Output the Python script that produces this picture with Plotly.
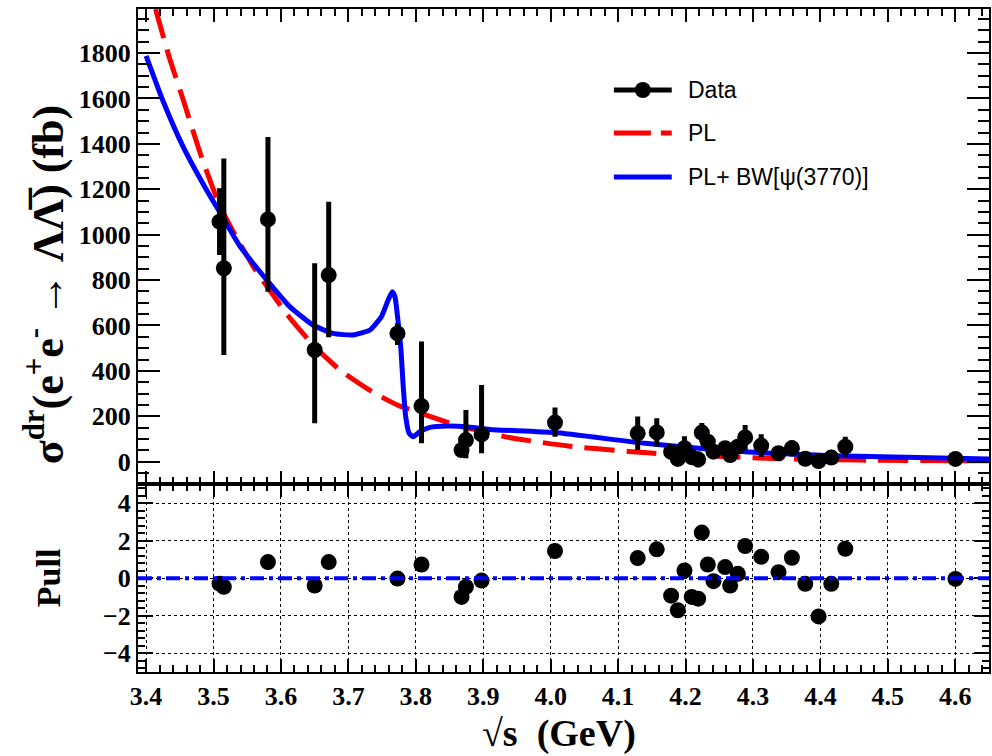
import plotly.graph_objects as go

# ---- measured points: dressed cross section (fb) and fit pulls ----
sqrt_s = [3.5089, 3.5153, 3.5807, 3.6500, 3.6708, 3.7728, 3.8084, 3.8678, 3.8743, 3.8975,
          4.0064, 4.1290, 4.1573, 4.1786, 4.1885, 4.1984, 4.2092, 4.2187, 4.2241, 4.2330,
          4.2414, 4.2587, 4.2662, 4.2775, 4.2884, 4.3122, 4.3379, 4.3577, 4.3775, 4.3973,
          4.4161, 4.4369, 4.6002]
sigma = [1057, 852, 1067, 492, 822, 565, 245, 51, 95, 120,
         172, 125, 129, 43, 12, 59, 20, 10, 128, 88,
         44, 59, 29, 66, 107, 71, 37, 59, 13, 3,
         18, 66, 12]
err_up = [147, 484, 363, 382, 323, 44, 284, 30, 133, 218,
          67, 74, 62, 25, 25, 53, 30, 35, 42, 30,
          25, 25, 25, 30, 55, 50, 25, 35, 20, 17,
          20, 44, 15]
err_down = [147, 382, 318, 323, 274, 51, 164, 25, 80, 83,
            62, 74, 62, 25, 25, 53, 30, 35, 42, 30,
            25, 25, 25, 30, 55, 50, 25, 35, 20, 17,
            20, 44, 15]
pull = [-0.29, -0.46, 0.86, -0.39, 0.86, -0.02, 0.73, -1.00, -0.46, -0.13,
        1.45, 1.07, 1.54, -0.93, -1.71, 0.41, -1.00, -1.09, 2.43, 0.73,
        -0.16, 0.59, -0.39, 0.23, 1.71, 1.14, 0.32, 1.09, -0.30, -2.04,
        -0.30, 1.57, -0.04]

# ---- fit curves ----
pl_x = [3.414, 3.434, 3.455, 3.482, 3.509, 3.528, 3.563, 3.581, 3.610, 3.650,
        3.687, 3.737, 3.774, 3.808, 3.836, 3.868, 3.910, 3.935, 4.026, 4.115,
        4.170, 4.320, 4.460, 4.605, 4.650]
pl_y = [1994, 1785, 1594, 1344, 1130, 1020, 840, 765, 645, 507,
        405, 305, 248, 213, 184, 154, 126, 108, 69, 45,
        34, 15, 7, 4, 4]

bw_x = [3.400, 3.425, 3.4545, 3.489, 3.509, 3.539, 3.581, 3.613, 3.6475, 3.677,
        3.707, 3.732, 3.749, 3.759, 3.765, 3.769, 3.774, 3.778, 3.781, 3.785,
        3.790, 3.796, 3.806, 3.821, 3.846, 3.875, 3.910, 4.006, 4.140, 4.288,
        4.437, 4.650]
bw_y = [1788, 1590, 1390, 1200, 1100, 950, 793, 683, 602, 565,
        558, 580, 639, 712, 749, 727, 609, 492, 345, 198,
        125, 110, 132, 151, 157, 154, 142, 128, 81, 44,
        25, 12]

# ---- axis settings ----
x_range = [3.388, 4.65]
x_ticks = [3.4, 3.5, 3.6, 3.7, 3.8, 3.9, 4.0, 4.1, 4.2, 4.3, 4.4, 4.5, 4.6]
x_tick_text = ["3.4", "3.5", "3.6", "3.7", "3.8", "3.9", "4.0", "4.1", "4.2", "4.3", "4.4", "4.5", "4.6"]
sig_range = [-100, 1994]
sig_ticks = [0, 200, 400, 600, 800, 1000, 1200, 1400, 1600, 1800]
pull_range = [-5, 5]
pull_ticks = [-4, -2, 0, 2, 4]

legend_labels = ["Data", "PL", "PL+ BW[\u03c8(3770)]"]

W, H = 992, 756
ML, MR, MT, MB = 138, 1, 9, 84
PW, PH = W - ML - MR, H - MT - MB
SPLIT = 0.283

SERIF = "Liberation Serif"
SANS = "Liberation Sans"


def px(xp):
    return (xp - ML) / PW


def py(yp):
    return (H - MB - yp) / PH


fig = go.Figure()

# upper panel: fit curves and data
fig.add_trace(go.Scatter(x=pl_x, y=pl_y, mode="lines", xaxis="x", yaxis="y",
                         line=dict(color="#ff0000", width=5, dash="30px,12px", shape="spline", smoothing=0.6),
                         showlegend=False, hoverinfo="skip"))
fig.add_trace(go.Scatter(x=bw_x, y=bw_y, mode="lines", xaxis="x", yaxis="y",
                         line=dict(color="#0000ff", width=5, shape="spline", smoothing=0.5),
                         showlegend=False, hoverinfo="skip"))
fig.add_trace(go.Scatter(x=sqrt_s, y=sigma, mode="markers", xaxis="x", yaxis="y",
                         marker=dict(color="black", size=16),
                         error_y=dict(type="data", symmetric=False, array=err_up, arrayminus=err_down,
                                      color="black", thickness=5, width=0),
                         showlegend=False))

# lower panel: pulls
fig.add_trace(go.Scatter(x=sqrt_s, y=pull, mode="markers", xaxis="x2", yaxis="y2",
                         marker=dict(color="black", size=16), showlegend=False))

tick_font = dict(family=SERIF, size=26, color="black", weight="bold")

common_x = dict(range=x_range, tickvals=x_ticks, ticktext=x_tick_text, ticks="inside",
                showline=True, linewidth=2, linecolor="black", mirror="allticks",
                tickcolor="black", tickwidth=1.5, ticklen=13, zeroline=False,
                minor=dict(ticks="inside", dtick=0.02, tick0=3.4, ticklen=7, tickcolor="black", tickwidth=1.5,
                           showgrid=False))

fig.update_layout(
    width=W, height=H,
    margin=dict(l=ML, r=MR, t=MT, b=MB, pad=0),
    paper_bgcolor="white", plot_bgcolor="white",
    showlegend=False,
    xaxis=dict(common_x, anchor="y", domain=[0, 1], showticklabels=False, showgrid=False, matches="x2"),
    xaxis2=dict(common_x, anchor="y2", domain=[0, 1], showticklabels=True, tickfont=tick_font,
                ticklabelstandoff=0,
                showgrid=True, gridcolor="black", gridwidth=1.2, griddash="dot"),
    yaxis=dict(domain=[SPLIT, 1], range=sig_range, tickvals=sig_ticks, ticks="inside",
               ticklen=22, tickwidth=1.5, tickcolor="black",
               showline=True, linewidth=2, linecolor="black", mirror="allticks",
               tickfont=tick_font, ticklabelstandoff=0, showgrid=False, zeroline=False,
               minor=dict(ticks="inside", dtick=50, tick0=0, ticklen=11, tickcolor="black", tickwidth=1.5)),
    yaxis2=dict(domain=[0, SPLIT], range=pull_range, tickvals=pull_ticks, ticks="inside",
                ticklen=15, tickwidth=1.5, tickcolor="black",
                showline=True, linewidth=2, linecolor="black", mirror="allticks",
                tickfont=tick_font, ticklabelstandoff=0, zeroline=False,
                showgrid=True, gridcolor="black", gridwidth=1.2, griddash="dot",
                minor=dict(ticks="inside", dtick=0.4, tick0=0, ticklen=7, tickcolor="black", tickwidth=1.5)),
)

# zero reference for pulls
fig.add_shape(type="line", xref="x2 domain", yref="y2", x0=0, x1=1, y0=0, y1=0,
              line=dict(color="#0000ff", width=4, dash="14px,5px,4px,5px"))

# axis titles
fig.add_annotation(text="\u03c3<sup>dr</sup>(e<sup>+</sup>e<sup>-</sup> \u2192 \u039b\u039b\u0305) (fb)",
                   xref="paper", yref="paper", x=px(44), y=py(285), textangle=-90,
                   showarrow=False, xanchor="center", yanchor="middle",
                   font=dict(family=SERIF, size=44, color="black", weight="bold"))
fig.add_annotation(text="Pull", xref="paper", yref="paper", x=px(48), y=py(578), textangle=-90,
                   showarrow=False, xanchor="center", yanchor="middle",
                   font=dict(family=SERIF, size=34, color="black", weight="bold"))
fig.add_annotation(text="\u221as  (GeV)", xref="paper", yref="paper", x=px(560), y=py(733),
                   showarrow=False, xanchor="center", yanchor="middle",
                   font=dict(family=SERIF, size=38, color="black", weight="bold"))

# legend box contents
leg_x0, leg_x1, leg_tx = 615, 673, 687
leg_rows = [90, 133, 177]
fig.add_shape(type="line", xref="paper", yref="paper", x0=px(leg_x0), x1=px(leg_x1),
              y0=py(leg_rows[0]), y1=py(leg_rows[0]), line=dict(color="black", width=5))
fig.add_shape(type="circle", xref="paper", yref="paper", x0=px(644 - 8), x1=px(644 + 8),
              y0=py(leg_rows[0] + 8), y1=py(leg_rows[0] - 8), fillcolor="black", line=dict(width=0))
fig.add_shape(type="line", xref="paper", yref="paper", x0=px(leg_x0), x1=px(leg_x1),
              y0=py(leg_rows[1]), y1=py(leg_rows[1]), line=dict(color="#ff0000", width=5, dash="37px,10px"))
fig.add_shape(type="line", xref="paper", yref="paper", x0=px(leg_x0), x1=px(leg_x1),
              y0=py(leg_rows[2]), y1=py(leg_rows[2]), line=dict(color="#0000ff", width=5))
for label, row in zip(legend_labels, leg_rows):
    fig.add_annotation(text=label, xref="paper", yref="paper", x=px(leg_tx), y=py(row),
                       showarrow=False, xanchor="left", yanchor="middle",
                       font=dict(family=SANS, size=23, color="black"))

fig.write_html("out.html")
